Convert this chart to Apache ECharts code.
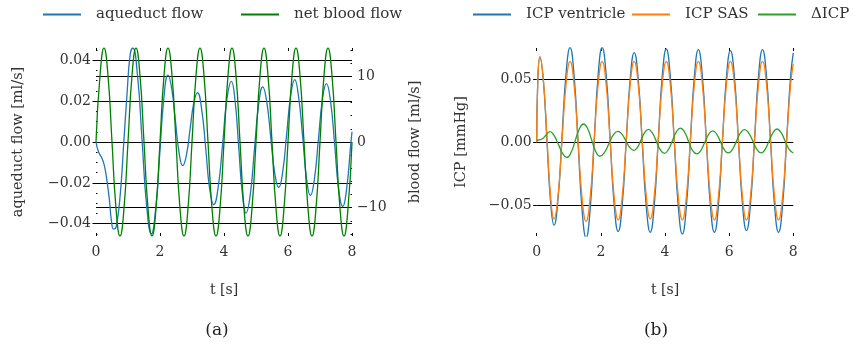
<!DOCTYPE html>
<html>
<head>
<meta charset="utf-8">
<script src="https://cdn.jsdelivr.net/npm/echarts@6/dist/echarts.min.js"></script>
<style>
html, body { margin: 0; padding: 0; background: #fff; }
#chart { width: 860px; height: 344px; }
</style>
</head>
<body>
<div id="chart"></div>
<script>
// (a) net blood flow [ml/s] vs t [s]
var bloodT = [0, 0.125, 0.25, 0.375, 0.5, 0.625, 0.75, 0.875,
  1, 1.125, 1.25, 1.375, 1.5, 1.625, 1.75, 1.875,
  2, 2.125, 2.25, 2.375, 2.5, 2.625, 2.75, 2.875,
  3, 3.125, 3.25, 3.375, 3.5, 3.625, 3.75, 3.875,
  4, 4.125, 4.25, 4.375, 4.5, 4.625, 4.75, 4.875,
  5, 5.125, 5.25, 5.375, 5.5, 5.625, 5.75, 5.875,
  6, 6.125, 6.25, 6.375, 6.5, 6.625, 6.75, 6.875,
  7, 7.125, 7.25, 7.375, 7.5, 7.625, 7.75, 7.875, 8];
var bloodFlow = [0, 10.1, 14.3, 10.1, 0, -10.1, -14.3, -10.1,
  0, 10.1, 14.3, 10.1, 0, -10.1, -14.3, -10.1,
  0, 10.1, 14.3, 10.1, 0, -10.1, -14.3, -10.1,
  0, 10.1, 14.3, 10.1, 0, -10.1, -14.3, -10.1,
  0, 10.1, 14.3, 10.1, 0, -10.1, -14.3, -10.1,
  0, 10.1, 14.3, 10.1, 0, -10.1, -14.3, -10.1,
  0, 10.1, 14.3, 10.1, 0, -10.1, -14.3, -10.1,
  0, 10.1, 14.3, 10.1, 0, -10.1, -14.3, -10.1, 0];

// (a) aqueduct flow [ml/s]
var aqueductT = [0, 0.08, 0.19, 0.27, 0.34, 0.42, 0.48, 0.55, 0.63, 0.76,
  0.865, 0.97, 1.07, 1.15, 1.295, 1.44, 1.585, 1.73, 1.86, 1.99,
  2.12, 2.25, 2.365, 2.48, 2.595, 2.71, 2.825, 2.94, 3.055, 3.17,
  3.30, 3.43, 3.55, 3.68, 3.82, 3.96, 4.09, 4.23, 4.345, 4.46,
  4.575, 4.69, 4.82, 4.95, 5.08, 5.21, 5.335, 5.46, 5.585, 5.71,
  5.835, 5.96, 6.085, 6.21, 6.33, 6.46, 6.58, 6.70, 6.825, 6.95,
  7.075, 7.20, 7.33, 7.46, 7.58, 7.71, 7.835, 7.96, 8.0];
var aqueductFlow = [0, -0.0049, -0.0081, -0.0122, -0.0187, -0.0285, -0.0382, -0.0426, -0.0415, -0.0252,
  -0.001, 0.0236, 0.043, 0.046, 0.0329, 0.0007, -0.0316, -0.045, -0.0336, -0.0062,
  0.0213, 0.0327, 0.0262, 0.0106, -0.0051, -0.0116, -0.0064, 0.0063, 0.019, 0.0242,
  0.0162, -0.0033, -0.0227, -0.0307, -0.0219, -0.0005, 0.0209, 0.0297, 0.0203, -0.0026,
  -0.0254, -0.0348, -0.0258, -0.0039, 0.018, 0.027, 0.0198, 0.0024, -0.0151, -0.0223,
  -0.0146, 0.0041, 0.0228, 0.0305, 0.0222, 0.0022, -0.0179, -0.0262, -0.0182, 0.0012,
  0.0206, 0.0286, 0.0198, -0.0015, -0.0228, -0.0316, -0.0226, -0.0013, 0.005];

// (b) ICP [mmHg]
var icpT = [0, 0.03, 0.1, 0.21, 0.32, 0.43, 0.54,
  0.665, 0.79, 0.915, 1.04, 1.165, 1.29, 1.415, 1.54,
  1.665, 1.79, 1.915, 2.04, 2.165, 2.29, 2.415, 2.54,
  2.665, 2.79, 2.915, 3.04, 3.165, 3.29, 3.415, 3.54,
  3.665, 3.79, 3.915, 4.04, 4.165, 4.29, 4.415, 4.54,
  4.665, 4.79, 4.915, 5.04, 5.165, 5.29, 5.415, 5.54,
  5.665, 5.79, 5.915, 6.04, 6.165, 6.29, 6.415, 6.54,
  6.665, 6.79, 6.915, 7.04, 7.165, 7.29, 7.415, 7.54,
  7.665, 7.79, 7.915, 8.0];
var icpVentricle = [0, 0.045, 0.0675, 0.048, 0.0008, -0.0465, -0.066,
  -0.0453, 0.0045, 0.0543, 0.075, 0.0529, -0.0005, -0.0539, -0.076,
  -0.0539, -0.0005, 0.0529, 0.075, 0.0536, 0.002, -0.0496, -0.071,
  -0.0502, 0, 0.0502, 0.071, 0.0501, -0.0004, -0.0508, -0.0717,
  -0.0504, 0.0011, 0.0525, 0.0738, 0.0523, 0.0004, -0.0515, -0.073,
  -0.0516, 0.0002, 0.0519, 0.0733, 0.0521, 0.0008, -0.0505, -0.0717,
  -0.0506, 0.0004, 0.0514, 0.0725, 0.0516, 0.0011, -0.0494, -0.0703,
  -0.0493, 0.0015, 0.0523, 0.0733, 0.0521, 0.0008, -0.0505, -0.0717,
  -0.0505, 0.0007, 0.0519, 0.0707];
var icpSas = [0, 0.045, 0.0675, 0.0487, 0.0033, -0.0422, -0.061,
  -0.0427, 0.0015, 0.0457, 0.064, 0.0454, 0.0005, -0.0444, -0.063,
  -0.0444, 0.0005, 0.0454, 0.064, 0.0455, 0.001, -0.0435, -0.062,
  -0.0435, 0.001, 0.0455, 0.064, 0.0457, 0.0015, -0.0427, -0.061,
  -0.0427, 0.0015, 0.0457, 0.064, 0.0455, 0.001, -0.0435, -0.062,
  -0.0435, 0.001, 0.0455, 0.064, 0.0455, 0.001, -0.0435, -0.062,
  -0.0435, 0.001, 0.0455, 0.064, 0.0455, 0.001, -0.0435, -0.062,
  -0.0435, 0.001, 0.0455, 0.064, 0.0455, 0.001, -0.0435, -0.062,
  -0.0435, 0.001, 0.0455, 0.062];

// (b) delta ICP
var dIcpT = [0, 0.1, 0.2, 0.3, 0.41, 0.54, 0.68, 0.81, 0.94,
  1.07, 1.20, 1.33, 1.46, 1.59, 1.715, 1.84, 1.97,
  2.11, 2.25, 2.39, 2.53, 2.655, 2.78, 2.905, 3.03,
  3.14, 3.255, 3.37, 3.48, 3.605, 3.73, 3.855, 3.98,
  4.105, 4.23, 4.355, 4.48, 4.61, 4.735, 4.86, 4.99,
  5.115, 5.24, 5.365, 5.49, 5.61, 5.73, 5.85, 5.97,
  6.1, 6.225, 6.35, 6.48, 6.61, 6.74, 6.87, 7.0,
  7.12, 7.245, 7.37, 7.49, 7.62, 7.745, 7.87, 8.0];
var dIcp = [0.0012, 0.0018, 0.003, 0.0058, 0.0082, 0.0052, -0.0021, -0.0093, -0.0123,
  -0.0084, 0.001, 0.0104, 0.0143, 0.0105, 0.0015, -0.0075, -0.0113,
  -0.0084, -0.0014, 0.0056, 0.0085, 0.0063, 0.001, -0.0044, -0.0066,
  -0.0042, 0.0017, 0.0076, 0.010, 0.0072, 0.0005, -0.0062, -0.009,
  -0.0061, 0.001, 0.0081, 0.011, 0.0079, 0.0005, -0.0069, -0.0095,
  -0.0068, -0.0003, 0.0062, 0.0089, 0.0063, 0.0001, -0.0061, -0.0087,
  -0.006, 0.0005, 0.007, 0.0098, 0.0071, 0.0006, -0.006, -0.0087,
  -0.0059, 0.0008, 0.0075, 0.0103, 0.0075, 0.0008, -0.0059, -0.0087];

// ticks
var tTicks = [0, 2, 4, 6, 8];
var aqTicks = [-0.04, -0.02, 0, 0.02, 0.04];
var aqMinor = [-0.045, -0.035, -0.03, -0.025, -0.015, -0.01, -0.005,
  0.005, 0.01, 0.015, 0.025, 0.03, 0.035, 0.045];
var bloodTicks = [-10, 0, 10];
var bloodMinor = [-14, -12, -8, -6, -4, -2, 2, 4, 6, 8, 12, 14];
var icpTicks = [-0.05, 0, 0.05];

var FONT = 'DejaVu Serif';
var TXT = '#333';

function pairs(xs, ys) {
  return xs.map(function (x, i) { return [x, ys[i]]; });
}
function signed(v, digits) {
  var s = Math.abs(v).toFixed(digits);
  return v < 0 ? '\u2212' + s : s;
}
function textStyle(size) {
  return { fontFamily: FONT, fontSize: size, color: TXT };
}

function tAxis(grid, pos) {
  var bottom = pos === 'bottom';
  return {
    type: 'value', gridIndex: grid, position: pos,
    min: 0, max: 8, interval: 2,
    axisLine: { show: false, onZero: false },
    splitLine: { show: false },
    axisTick: { show: true, inside: true, length: 3, customValues: tTicks, lineStyle: { color: '#000', width: 1 } },
    axisLabel: Object.assign({ show: bottom, margin: 9, customValues: tTicks }, textStyle(14)),
    name: bottom ? 't [s]' : '',
    nameLocation: 'middle', nameGap: 47,
    nameTextStyle: textStyle(14)
  };
}

function valAxis(o) {
  return {
    type: 'value', gridIndex: o.grid, position: o.pos,
    min: o.min, max: o.max, splitNumber: o.split,
    axisLine: { show: false, onZero: false },
    axisTick: { show: true, inside: o.inside, length: o.tickLen, customValues: o.ticks, lineStyle: { color: '#000', width: 1 } },
    axisLabel: Object.assign({
      margin: o.margin, customValues: o.ticks,
      formatter: function (v) { return signed(v, o.digits); }
    }, textStyle(14)),
    splitLine: { show: true, lineStyle: { color: '#000', width: 1 } },
    name: o.name, nameLocation: 'middle', nameGap: o.gap,
    nameTextStyle: textStyle(14.5)
  };
}

function minorAxis(grid, pos, min, max, ticks) {
  return {
    type: 'value', gridIndex: grid, position: pos, min: min, max: max,
    axisLine: { show: false, onZero: false },
    axisLabel: { show: false },
    splitLine: { show: false },
    axisTick: { show: true, inside: true, length: 1.5, customValues: ticks, lineStyle: { color: '#000', width: 1 } }
  };
}

function legendItem(name, left) {
  return {
    data: [name], left: left, top: 7, padding: 0,
    icon: 'rect', itemWidth: 38, itemHeight: 2, selectedMode: false,
    textStyle: Object.assign({ padding: [0, 0, 0, 10] }, textStyle(15))
  };
}

function line(name, xi, yi, data, color, z) {
  return {
    name: name, type: 'line', xAxisIndex: xi, yAxisIndex: yi,
    data: data, showSymbol: false, smooth: 0.5, z: z,
    color: color, itemStyle: { color: color },
    lineStyle: { color: color, width: 1.3 }
  };
}

var chart = echarts.init(document.getElementById('chart'), null, { renderer: 'canvas' });
chart.setOption({
  animation: false,
  backgroundColor: '#fff',
  grid: [
    { left: 96, right: 508, top: 48, bottom: 108, outerBoundsMode: 'none' },
    { left: 536.7, right: 66.7, top: 48, bottom: 108, outerBoundsMode: 'none' }
  ],
  legend: [
    legendItem('aqueduct flow', 43),
    legendItem('net blood flow', 241),
    legendItem('ICP ventricle', 473),
    legendItem('ICP SAS', 632),
    legendItem('\u0394ICP', 758)
  ],
  xAxis: [tAxis(0, 'bottom'), tAxis(0, 'top'), tAxis(1, 'bottom'), tAxis(1, 'top')],
  yAxis: [
    valAxis({ grid: 0, pos: 'left', min: -0.046, max: 0.046, split: 5, ticks: aqTicks, digits: 2,
      inside: false, tickLen: 3.5, margin: 5, name: 'aqueduct flow [ml/s]', gap: 70 }),
    valAxis({ grid: 0, pos: 'right', min: -14.3, max: 14.3, split: 2, ticks: bloodTicks, digits: 0,
      inside: true, tickLen: 2.5, margin: 5, name: 'blood flow [ml/s]', gap: 56 }),
    minorAxis(0, 'left', -0.046, 0.046, aqMinor),
    minorAxis(0, 'right', -14.3, 14.3, bloodMinor),
    valAxis({ grid: 1, pos: 'left', min: -0.0746, max: 0.0746, split: 3, ticks: icpTicks, digits: 2,
      inside: false, tickLen: 3.5, margin: 5, name: 'ICP [mmHg]', gap: 68 })
  ],
  series: [
    line('aqueduct flow', 0, 0, pairs(aqueductT, aqueductFlow), '#1f77b4', 2),
    line('net blood flow', 0, 1, pairs(bloodT, bloodFlow), '#008000', 3),
    line('ICP ventricle', 2, 4, pairs(icpT, icpVentricle), '#1f77b4', 2),
    line('ICP SAS', 2, 4, pairs(icpT, icpSas), '#ff7f0e', 3),
    line('\u0394ICP', 2, 4, pairs(dIcpT, dIcp), '#2ca02c', 4)
  ],
  graphic: [
    { type: 'text', x: 217, y: 331, style: { text: '(a)', align: 'center', verticalAlign: 'middle', fontFamily: FONT, fontSize: 17, fill: '#222' } },
    { type: 'text', x: 656, y: 331, style: { text: '(b)', align: 'center', verticalAlign: 'middle', fontFamily: FONT, fontSize: 17, fill: '#222' } }
  ]
});
</script>
</body>
</html>
